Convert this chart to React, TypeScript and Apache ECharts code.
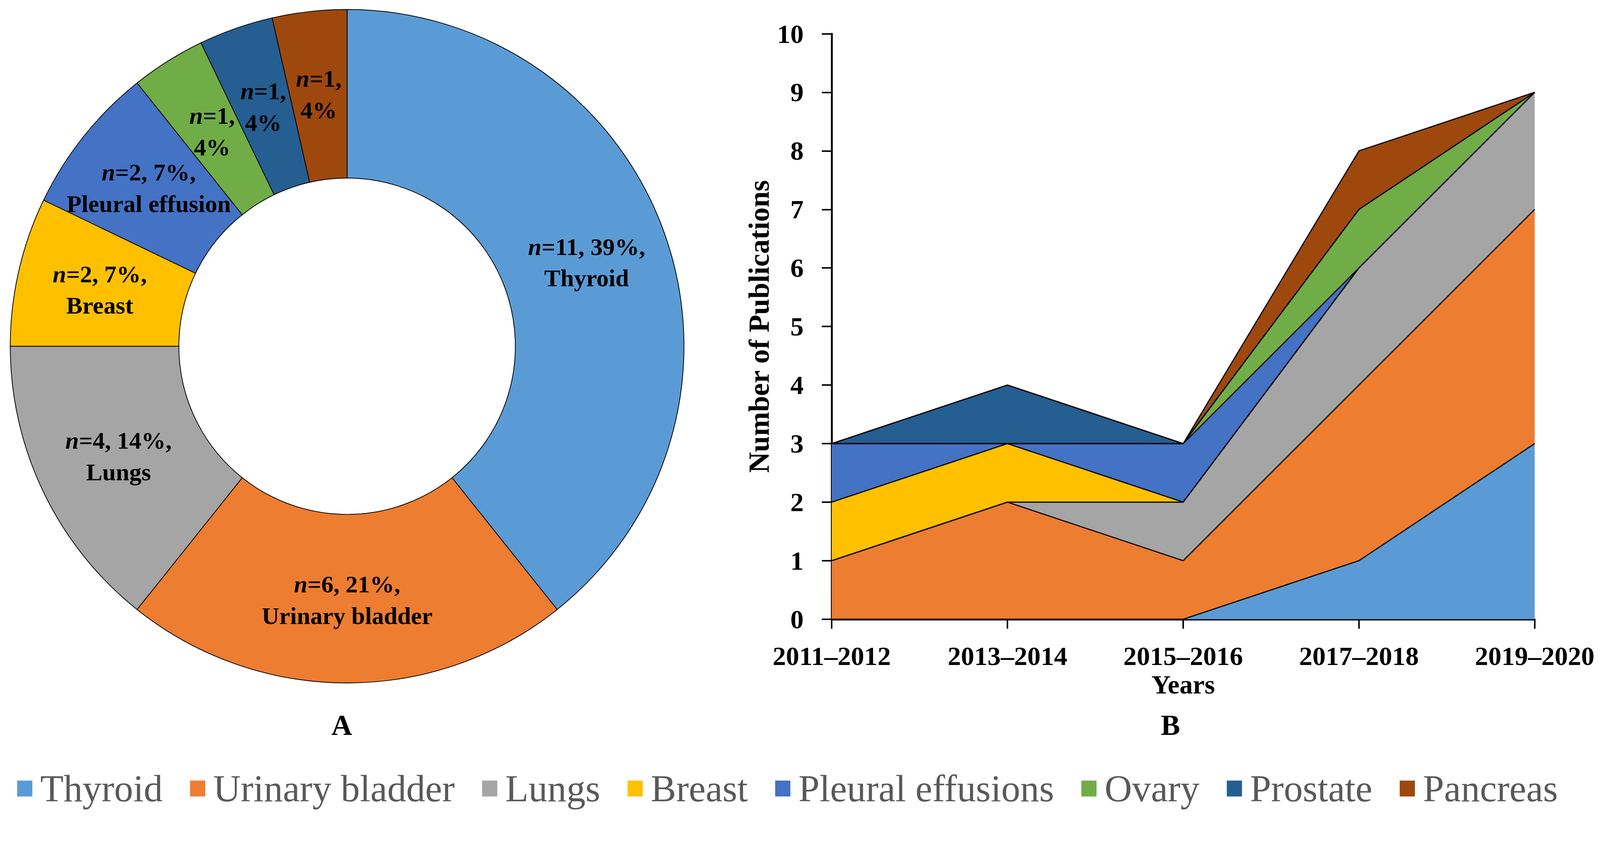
import React, { useEffect, useRef, useState } from 'react';
import * as echarts from 'echarts';

const seriesNames = ['Thyroid', 'Urinary bladder', 'Lungs', 'Breast', 'Pleural effusions', 'Ovary', 'Prostate', 'Pancreas'];
const seriesColors = ['#5B9BD5', '#ED7D31', '#A5A5A5', '#FFC000', '#4472C4', '#70AD47', '#255E91', '#9E480E'];

// Panel A (donut)
const pieCounts = [11, 6, 4, 2, 2, 1, 1, 1];
const pieLabelNames = ['Thyroid', 'Urinary bladder', 'Lungs', 'Breast', 'Pleural effusion', '', '', ''];

// Panel B (stacked area)
const periods = ['2011–2012', '2013–2014', '2015–2016', '2017–2018', '2019–2020'];
const thyroid = [0, 0, 0, 1, 3];
const urinaryBladder = [1, 2, 1, 3, 4];
const lungs = [0, 0, 1, 2, 2];
const breast = [1, 1, 0, 0, 0];
const pleuralEffusions = [1, 0, 1, 0, 0];
const ovary = [0, 0, 0, 1, 0];
const prostate = [0, 1, 0, 0, 0];
const pancreas = [0, 0, 0, 1, 0];
const areaValues = [thyroid, urinaryBladder, lungs, breast, pleuralEffusions, ovary, prostate, pancreas];

const FONT = '"Liberation Serif", "Times New Roman", serif';
const W = 4213;
const H = 2164;

function getScale() {
  const w = window.innerWidth || W;
  const h = window.innerHeight || H;
  return Math.min(w / W, h / H);
}

export default function App() {
  const ref = useRef<HTMLDivElement>(null);
  const [s] = useState(getScale);

  useEffect(() => {
    if (!ref.current) return;
    const chart = echarts.init(ref.current, null, { renderer: 'svg' });
    const px = (v: number) => v * s;
    const labelRich = {
      i: { fontFamily: FONT, fontSize: px(64), fontWeight: 'bold', fontStyle: 'italic', color: '#000', lineHeight: px(83) },
      t: { fontFamily: FONT, fontSize: px(64), fontWeight: 'bold', color: '#000', lineHeight: px(83) },
    };
    const option: any = {
      animation: false,
      backgroundColor: '#fff',
      textStyle: { fontFamily: FONT },
      legend: {
        left: px(40),
        top: px(2022),
        icon: 'rect',
        itemWidth: px(40),
        itemHeight: px(42),
        itemGap: px(72),
        selectedMode: false,
        itemStyle: { borderWidth: 0 },
        textStyle: { fontFamily: FONT, fontSize: px(100), color: '#595959', padding: [0, 0, 0, px(16)] },
        data: seriesNames.map((n, i) => ({ name: n, itemStyle: { color: seriesColors[i], borderWidth: 0 } })),
      },
      grid: { left: px(2190), right: px(172), top: px(89), bottom: px(533), containLabel: false },
      xAxis: {
        type: 'category',
        data: periods,
        boundaryGap: false,
        name: 'Years',
        nameLocation: 'middle',
        nameGap: px(130),
        nameTextStyle: { fontFamily: FONT, fontSize: px(70), fontWeight: 'bold', color: '#000' },
        axisLine: { lineStyle: { color: '#000', width: px(5) } },
        axisTick: { show: true, length: px(25), lineStyle: { color: '#000', width: px(4) } },
        axisLabel: { fontFamily: FONT, fontSize: px(70), fontWeight: 'bold', color: '#000', margin: px(62), interval: 0 },
        splitLine: { show: false },
      },
      yAxis: {
        type: 'value',
        min: 0,
        max: 10,
        interval: 1,
        name: 'Number of Publications',
        nameLocation: 'middle',
        nameGap: px(153),
        nameTextStyle: { fontFamily: FONT, fontSize: px(76), fontWeight: 'bold', color: '#000' },
        axisLine: { show: true, lineStyle: { color: '#000', width: px(5) } },
        axisTick: { show: true, length: px(26), lineStyle: { color: '#000', width: px(4) } },
        axisLabel: { fontFamily: FONT, fontSize: px(70), fontWeight: 'bold', color: '#000', margin: px(74) },
        splitLine: { show: false },
      },
      series: [
        {
          type: 'pie',
          name: 'Sites',
          center: [px(914), px(912)],
          radius: [px(443), px(887)],
          startAngle: 90,
          clockwise: true,
          silent: true,
          itemStyle: { borderColor: '#000', borderWidth: px(2) },
          label: {
            show: true,
            position: 'inside',
            formatter: (p: any) => {
              const pct = Math.round(p.percent);
              const lbl = pieLabelNames[p.dataIndex];
              return lbl
                ? `{i|n}{t|=${p.value}, ${pct}%,}\n{t|${lbl}}`
                : `{i|n}{t|=${p.value},}\n{t|${pct}%}`;
            },
            rich: labelRich,
          },
          labelLine: { show: false },
          emphasis: { disabled: true },
          data: seriesNames.map((n, i) => ({ name: n, value: pieCounts[i], itemStyle: { color: seriesColors[i] } })),
        },
        ...seriesNames.map((n, i) => ({
          type: 'line',
          name: n,
          stack: 'total',
          data: areaValues[i],
          symbol: 'none',
          showSymbol: false,
          silent: true,
          color: seriesColors[i],
          lineStyle: { color: '#000', width: px(3) },
          areaStyle: { color: seriesColors[i], opacity: 1 },
          emphasis: { disabled: true },
        })),
      ],
      graphic: [
        {
          type: 'text',
          x: px(900),
          y: px(1910),
          style: { text: 'A', fill: '#000', font: `bold ${px(76)}px ${FONT}`, align: 'center', verticalAlign: 'middle' },
        },
        {
          type: 'text',
          x: px(3082),
          y: px(1910),
          style: { text: 'B', fill: '#000', font: `bold ${px(76)}px ${FONT}`, align: 'center', verticalAlign: 'middle' },
        },
      ],
    };
    chart.setOption(option);
    return () => chart.dispose();
  }, [s]);

  return (
    <div
      ref={ref}
      style={{ position: 'fixed', left: 0, top: 0, width: W * s, height: H * s, background: '#fff' }}
    />
  );
}
